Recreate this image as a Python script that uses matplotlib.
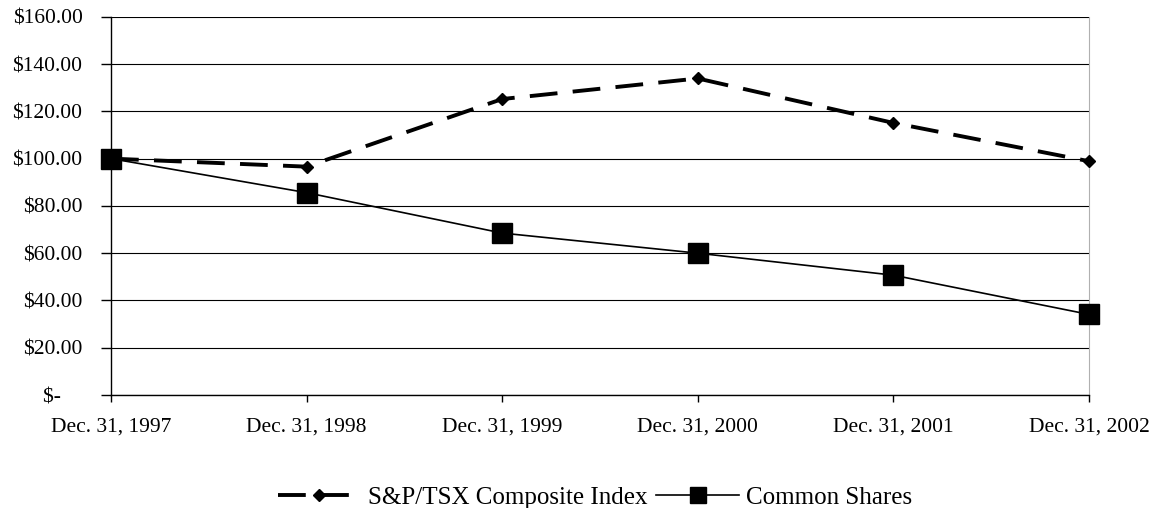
import numpy as np
import matplotlib.pyplot as plt

dates = ['Dec. 31, 1997', 'Dec. 31, 1998', 'Dec. 31, 1999',
         'Dec. 31, 2000', 'Dec. 31, 2001', 'Dec. 31, 2002']
tsx = [100.0, 96.6, 125.2, 133.9, 115.1, 98.9]
common = [100.0, 85.6, 68.5, 60.0, 50.7, 34.1]
yticks = [0, 20, 40, 60, 80, 100, 120, 140, 160]
ylabels = ['$-    ', '$20.00', '$40.00', '$60.00', '$80.00',
           '$100.00', '$120.00', '$140.00', '$160.00']

plt.rcParams['font.family'] = ['Liberation Serif', 'DejaVu Serif']
plt.rcParams['lines.scale_dashes'] = False

fig = plt.figure(figsize=(11.51, 5.08), dpi=100)
ax = fig.add_axes([0.0964, 0.2224, 0.8497, 0.7446])

x = np.arange(len(dates))
ax.plot(x, tsx, color='black', lw=2.8, dashes=(20, 11), marker='D', ms=6.5,
        label='S&P/TSX Composite Index', zorder=3, clip_on=False)
ax.plot(x, common, color='black', lw=1.2, marker='s', ms=14,
        label='Common Shares', zorder=4, clip_on=False)

ax.set_xlim(0, len(dates) - 1)
ax.set_ylim(0, 160)
ax.set_xticks(x)
ax.set_xticklabels(dates)
ax.set_yticks(yticks)
ax.set_yticklabels(ylabels)
ax.yaxis.grid(True, color='black', lw=0.8)
ax.set_axisbelow(True)

ax.spines['top'].set_visible(False)
ax.spines['right'].set_color('#b0b0b0')
ax.spines['left'].set_linewidth(1.0)
ax.spines['bottom'].set_linewidth(1.0)
ax.tick_params(axis='both', direction='out', width=1.0,
               labelsize=15.5, colors='black')
ax.tick_params(axis='x', length=5, pad=11)
ax.tick_params(axis='y', length=7, pad=13.5)

leg = fig.legend(loc='center', bbox_to_anchor=(0.517, 0.021), ncol=2,
                 frameon=False, fontsize=18, handlelength=3.3,
                 columnspacing=0.36, handletextpad=0.3)
leg.legend_handles[1].set_markersize(11)

fig.savefig('out.png', dpi=100)
